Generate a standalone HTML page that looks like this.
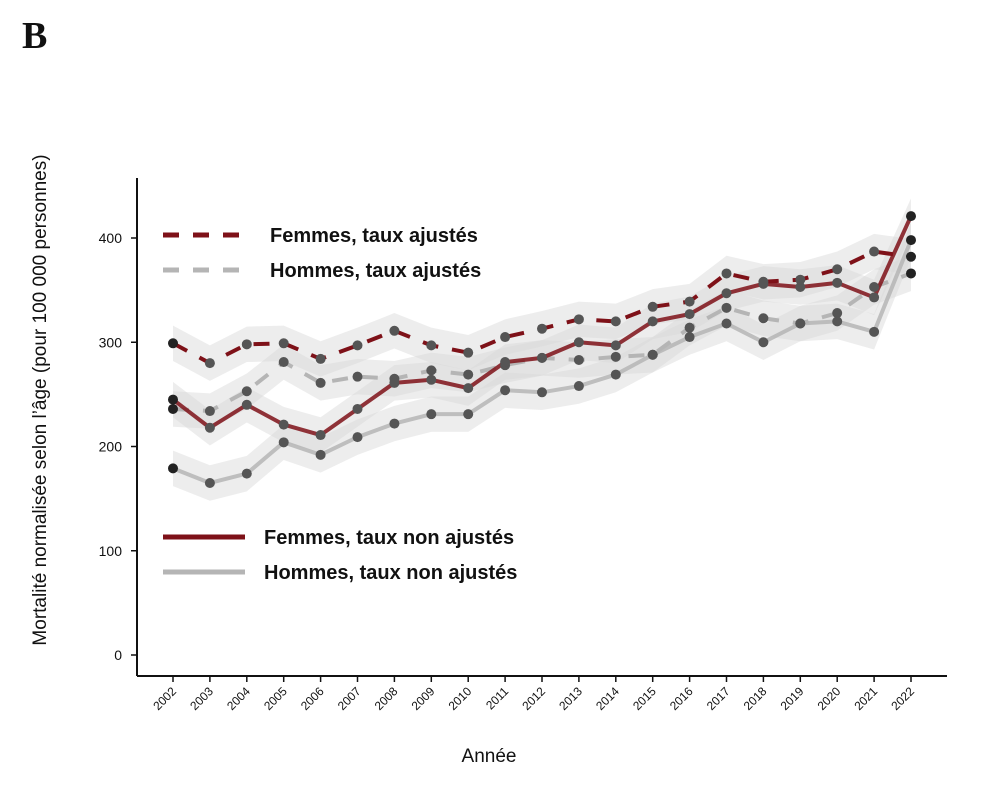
<!DOCTYPE html>
<html><head><meta charset="utf-8"><style>
body{margin:0;background:#fff;width:1000px;height:783px;overflow:hidden;font-family:"Liberation Sans",sans-serif}
</style></head><body>
<svg id="chart" width="1000" height="783" xmlns="http://www.w3.org/2000/svg">
<text x="22" y="48" font-family="Liberation Serif" font-weight="bold" font-size="38" fill="#111">B</text>
<g id="bands"></g><g id="lines"></g><g id="pts"></g>
<g id="axes" stroke="#111" stroke-width="2" fill="none">
<line x1="137" y1="178" x2="137" y2="676"/>
<line x1="137" y1="676" x2="947" y2="676"/>
</g>
<g id="ticks"></g>
<text transform="translate(46,400) rotate(-90)" text-anchor="middle" font-size="19" fill="#111">Mortalité normalisée selon l’âge (pour 100 000 personnes)</text>
<text x="489" y="762" text-anchor="middle" font-size="19" fill="#111">Année</text>
<g font-size="20" font-weight="bold" fill="#111">
<line x1="163" y1="235" x2="250" y2="235" stroke="#7e1118" stroke-width="5" stroke-dasharray="16,14"/>
<text x="270" y="242">Femmes, taux ajustés</text>
<line x1="163" y1="270" x2="250" y2="270" stroke="#b5b5b5" stroke-width="5" stroke-dasharray="16,14"/>
<text x="270" y="277">Hommes, taux ajustés</text>
<line x1="163" y1="537" x2="245" y2="537" stroke="#7e1118" stroke-width="5"/>
<text x="264" y="544">Femmes, taux non ajustés</text>
<line x1="163" y1="572" x2="245" y2="572" stroke="#b5b5b5" stroke-width="5"/>
<text x="264" y="579">Hommes, taux non ajustés</text>
</g>
</svg>
<script>
const years=[2002,2003,2004,2005,2006,2007,2008,2009,2010,2011,2012,2013,2014,2015,2016,2017,2018,2019,2020,2021,2022];
const femmesAdj=[299,280,298,299,284,297,311,297,290,305,313,322,320,334,339,366,358,360,370,387,382];
const hommesAdj=[236,234,253,281,261,267,265,273,269,278,285,283,286,288,314,333,323,318,328,353,366];
const femmesNon=[245,218,240,221,211,236,261,264,256,281,285,300,297,320,327,347,356,353,357,343,421];
const hommesNon=[179,165,174,204,192,209,222,231,231,254,252,258,269,288,305,318,300,318,320,310,398];
const yTicks=[0,100,200,300,400];
const NS="http://www.w3.org/2000/svg";
const x=i=>173+i*36.9;
const y=v=>655-v*1.0425;
function mk(t,a,p){const e=document.createElementNS(NS,t);for(const k in a)e.setAttribute(k,a[k]);p.appendChild(e);return e;}
const series=[
{d:hommesNon,c:"#b5b5b5",dash:null,n:"hommes-non-ajustes"},
{d:hommesAdj,c:"#b5b5b5",dash:"16,14",n:"hommes-ajustes"},
{d:femmesNon,c:"#7e1118",dash:null,n:"femmes-non-ajustes"},
{d:femmesAdj,c:"#7e1118",dash:"16,14",n:"femmes-ajustes"}];
const B=document.getElementById('bands'),L=document.getElementById('lines'),P=document.getElementById('pts'),T=document.getElementById('ticks');
series.forEach(s=>{
 let up=s.d.map((v,i)=>x(i)+","+y(v+17)),dn=s.d.map((v,i)=>x(i)+","+y(v-17)).reverse();
 const b=mk('polygon',{points:up.concat(dn).join(' '),fill:"#d8d8d8","fill-opacity":"0.45"},B);
 
 
 const a={points:s.d.map((v,i)=>x(i)+","+y(v)).join(' '),fill:"none",stroke:s.c,"stroke-width":4,"stroke-opacity":s.dash?1:0.85,"stroke-linejoin":"round"};
 if(s.dash)a["stroke-dasharray"]=s.dash;
 const l=mk('polyline',a,L);
 
 
 s.d.forEach((v,i)=>{const c=mk('circle',{cx:x(i),cy:y(v),r:5,fill:(i==0||i==20)?"#222":"#555"},P);
 
 });
});
yTicks.forEach(v=>{
 const t=mk('line',{x1:131,x2:137,y1:y(v),y2:y(v),stroke:"#111","stroke-width":1.5},T);
 
 
 const tx=mk('text',{x:122,y:y(v)+5,"text-anchor":"end","font-size":"14",fill:"#111"},T);tx.textContent=v;
 
 
});
years.forEach((yr,i)=>{
 const t=mk('line',{x1:x(i),x2:x(i),y1:676,y2:682,stroke:"#111","stroke-width":1.5},T);
 
 
 const tx=mk('text',{transform:`translate(${x(i)+4},${692}) rotate(-45)`,"text-anchor":"end","font-size":"12",fill:"#111"},T);tx.textContent=yr;
 
 
});
</script>
</body></html>
